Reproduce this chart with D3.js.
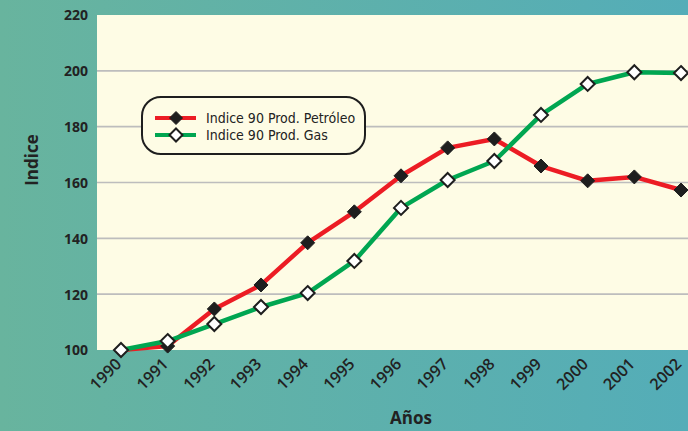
<!DOCTYPE html>
<html><head><meta charset="utf-8">
<script src="https://cdn.jsdelivr.net/npm/d3@7"></script>
<style>html,body{margin:0;padding:0;overflow:hidden;}</style>
</head><body>
<svg id="c" width="688" height="431"></svg>
<script>
const years = [1990,1991,1992,1993,1994,1995,1996,1997,1998,1999,2000,2001,2002];
const petroleo = [100,101.4,114.7,123.3,138.4,149.5,162.4,172.4,175.6,165.9,160.6,162,157.3];
const gas = [100,103.2,109.3,115.4,120.4,131.9,150.9,160.9,167.7,184.2,195.3,199.5,199.2];
const yTicks = [100,120,140,160,180,200,220];
const seriesNames = ["Indice 90 Prod. Petróleo","Indice 90 Prod. Gas"];

(function(){
const W=688,H=431;
const svg=d3.select("#c");
const defs=svg.append("defs");
const g=defs.append("linearGradient").attr("id","bg").attr("x1","0").attr("y1","0").attr("x2","1").attr("y2","0");
g.append("stop").attr("offset","0").attr("stop-color","#68b49e");
g.append("stop").attr("offset","1").attr("stop-color","#54adb8");
svg.append("rect").attr("width",W).attr("height",H).attr("fill","url(#bg)");

const pL=97,pR=688,pT=15,pB=350;
const x=d3.scaleLinear().domain([1990,2002]).range([121,681]);
const y=d3.scaleLinear().domain([100,220]).range([pB,pT]);

svg.append("rect").attr("x",pL).attr("y",pT).attr("width",pR-pL).attr("height",pB-pT).attr("fill","#fefce5");

svg.append("g").selectAll("line").data(yTicks.filter(d=>d>100&&d<220)).join("line")
 .attr("x1",pL).attr("x2",pR).attr("y1",d=>y(d)).attr("y2",d=>y(d))
 .attr("stroke","#bdbdbd").attr("stroke-width",1.6);

const font="'Liberation Sans Narrow','DejaVu Sans Condensed','Open Sans',sans-serif";
const ya=svg.append("g").attr("transform",`translate(${pL},0)`).call(d3.axisLeft(y).tickValues(yTicks).tickSize(0).tickPadding(9));
ya.select(".domain").remove();
ya.selectAll("text").attr("font-family","'Open Sans',sans-serif").attr("font-weight","bold").attr("font-size",14).attr("fill","#222").attr("dy","0.35em");

const xa=svg.append("g").attr("transform",`translate(0,${pB})`).call(d3.axisBottom(x).tickValues(years).tickFormat(d3.format("d")).tickSize(0));
xa.select(".domain").remove();
xa.selectAll("text").attr("font-family","'Open Sans',sans-serif").attr("font-weight","600").attr("font-size",16).attr("fill","#222")
 .attr("text-anchor","end").attr("dy",0).attr("y",0)
 .attr("transform","translate(1,15) rotate(-45)");

svg.append("text").attr("x",411).attr("y",424).attr("text-anchor","middle").attr("font-family","'Open Sans',sans-serif").attr("font-weight","bold").attr("font-size",17).attr("fill","#222").text("Años");
svg.append("text").attr("transform","translate(38,160) rotate(-90)").attr("text-anchor","middle").attr("font-family","'Open Sans',sans-serif").attr("font-weight","bold").attr("font-size",17).attr("fill","#222").text("Indice");

const line=d3.line().x((d,i)=>x(years[i])).y(d=>y(d));
function dpath(s){return `M0,${-s}L${s},0L0,${s}L${-s},0Z`;}

svg.append("path").datum(petroleo).attr("d",line).attr("fill","none").attr("stroke","#ec1c24").attr("stroke-width",4.5).attr("stroke-linejoin","round");
svg.append("g").selectAll("path").data(petroleo).join("path").attr("d",dpath(7))
 .attr("transform",(d,i)=>`translate(${x(years[i])},${y(d)})`).attr("fill","#1e1e1e").attr("stroke","#1e1e1e").attr("stroke-width",1);
svg.append("path").datum(gas).attr("d",line).attr("fill","none").attr("stroke","#00a651").attr("stroke-width",4.5).attr("stroke-linejoin","round");
svg.append("g").selectAll("path").data(gas).join("path").attr("d",dpath(7))
 .attr("transform",(d,i)=>`translate(${x(years[i])},${y(d)})`).attr("fill","#fff").attr("stroke","#1e1e1e").attr("stroke-width",2);

const lg=svg.append("g");
lg.append("rect").attr("x",142).attr("y",97).attr("width",223).attr("height",57).attr("rx",19).attr("fill","#fefce5").attr("stroke","#1e1e1e").attr("stroke-width",2);
const cols=["#ec1c24","#00a651"];
seriesNames.forEach((n,i)=>{
  const yy=118+i*17;
  lg.append("line").attr("x1",155).attr("x2",196).attr("y1",yy).attr("y2",yy).attr("stroke",cols[i]).attr("stroke-width",4);
  lg.append("path").attr("d",dpath(6.5)).attr("transform",`translate(176,${yy})`)
    .attr("fill",i?"#fff":"#1e1e1e").attr("stroke","#1e1e1e").attr("stroke-width",i?2:1);
  lg.append("text").attr("x",206).attr("y",yy).attr("dy","0.35em").attr("font-family",font).attr("font-size",14).attr("fill","#222").text(n);
});
})();
</script>
</body></html>
